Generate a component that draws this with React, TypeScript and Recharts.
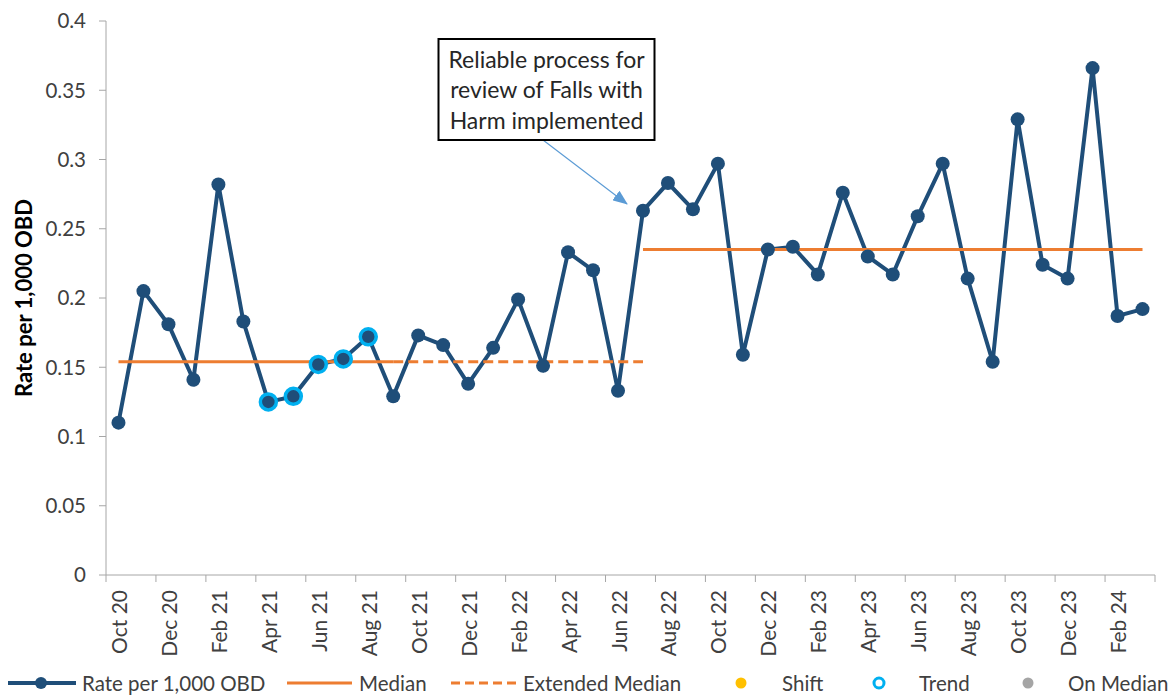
import React from 'react';
import { LineChart, Line, XAxis, YAxis, Legend } from 'recharts';

// months on the x axis (Oct 20 .. Mar 24)
const months = [
  'Oct 20', 'Nov 20', 'Dec 20', 'Jan 21', 'Feb 21', 'Mar 21', 'Apr 21', 'May 21', 'Jun 21', 'Jul 21', 'Aug 21', 'Sep 21',
  'Oct 21', 'Nov 21', 'Dec 21', 'Jan 22', 'Feb 22', 'Mar 22', 'Apr 22', 'May 22', 'Jun 22', 'Jul 22', 'Aug 22', 'Sep 22',
  'Oct 22', 'Nov 22', 'Dec 22', 'Jan 23', 'Feb 23', 'Mar 23', 'Apr 23', 'May 23', 'Jun 23', 'Jul 23', 'Aug 23', 'Sep 23',
  'Oct 23', 'Nov 23', 'Dec 23', 'Jan 24', 'Feb 24', 'Mar 24',
];

// falls with harm, rate per 1,000 occupied bed days
const rate = [
  0.110, 0.205, 0.181, 0.141, 0.282, 0.183, 0.125, 0.129, 0.152, 0.156, 0.172, 0.129,
  0.173, 0.166, 0.138, 0.164, 0.199, 0.151, 0.233, 0.220, 0.133, 0.263, 0.283, 0.264,
  0.297, 0.159, 0.235, 0.237, 0.217, 0.276, 0.230, 0.217, 0.259, 0.297, 0.214, 0.154,
  0.329, 0.224, 0.214, 0.366, 0.187, 0.192,
];

const yTicks = [0, 0.05, 0.1, 0.15, 0.2, 0.25, 0.3, 0.35, 0.4];

// median phases
const baselineMedian = 0.154;
const baselineMonths = ['Oct 20', 'Sep 21']; // first .. last
const extendedMonths = ['Sep 21', 'Jul 22'];
const newMedian = 0.235;
const newMedianMonths = ['Jul 22', 'Mar 24'];

// points flagged as a trend
const trendMonths = ['Apr 21', 'May 21', 'Jun 21', 'Jul 21', 'Aug 21'];

const inRange = (i: number, r: string[]) => i >= months.indexOf(r[0]) && i <= months.indexOf(r[1]);

const data = months.map((m, i) => ({
  month: m,
  rate: rate[i],
  median: inRange(i, baselineMonths) ? baselineMedian : inRange(i, newMedianMonths) ? newMedian : null,
  extMedian: inRange(i, extendedMonths) ? baselineMedian : null,
  trend: trendMonths.includes(m) ? rate[i] : null,
}));

const NAVY = '#1F4E79';
const ORANGE = '#ED7D31';
const CYAN = '#00B0F0';
const AXIS = '#A6A6A6';
const TEXT = '#404040';
const FONT = 'Lato, "Open Sans", sans-serif';

const MonthTick = (props: any) => {
  const { x, y, payload } = props;
  const half = payload.offset ? payload.offset : (1155 - 106) / months.length / 2;
  const isLast = payload.index === months.length - 2;
  return (
    <g>
      <line x1={x - half} x2={x - half} y1={y} y2={y + 7} stroke={AXIS} />
      {isLast && <line x1={x + 3 * half} x2={x + 3 * half} y1={y} y2={y + 7} stroke={AXIS} />}
      <text
        x={x}
        y={y + 15}
        transform={`rotate(-90, ${x}, ${y + 15})`}
        textAnchor="end"
        dominantBaseline="central"
        fontSize={21}
        fontFamily={FONT}
        fill={TEXT}
      >
        {payload.value}
      </text>
    </g>
  );
};

const legendItems = [
  { name: 'Rate per 1,000 OBD', kind: 'series', sx: 8, tx: 82 },
  { name: 'Median', kind: 'solid', sx: 287, tx: 359 },
  { name: 'Extended Median', kind: 'dashed', sx: 451, tx: 523 },
  { name: 'Shift', kind: 'shift', sx: 741, tx: 782 },
  { name: 'Trend', kind: 'trend', sx: 879, tx: 919 },
  { name: 'On Median', kind: 'onMedian', sx: 1028, tx: 1068 },
];

const renderLegend = () => (
  <svg width={1172} height={24} style={{ display: 'block' }}>
    {legendItems.map((it) => (
      <g key={it.name}>
        {it.kind === 'series' && (
          <g>
            <line x1={it.sx} x2={it.sx + 68} y1={12} y2={12} stroke={NAVY} strokeWidth={4} />
            <circle cx={it.sx + 33} cy={12} r={6} fill={NAVY} />
          </g>
        )}
        {it.kind === 'solid' && <line x1={it.sx} x2={it.sx + 65} y1={12} y2={12} stroke={ORANGE} strokeWidth={3} />}
        {it.kind === 'dashed' && (
          <line x1={it.sx} x2={it.sx + 68} y1={12} y2={12} stroke={ORANGE} strokeWidth={3} strokeDasharray="9 5" />
        )}
        {it.kind === 'shift' && <circle cx={it.sx} cy={12} r={5.5} fill="#FFC000" />}
        {it.kind === 'trend' && <circle cx={it.sx} cy={12} r={5} fill="#fff" stroke={CYAN} strokeWidth={3} />}
        {it.kind === 'onMedian' && <circle cx={it.sx} cy={12} r={5.5} fill="#A5A5A5" />}
        <text x={it.tx} y={12} dominantBaseline="central" fontSize={20.5} fontFamily={FONT} fill={TEXT}>
          {it.name}
        </text>
      </g>
    ))}
  </svg>
);

export default function App() {
  return (
    <div style={{ position: 'absolute', left: 0, top: 0, width: 1172, height: 695, background: '#fff' }}>
      <LineChart width={1172} height={695} data={data} margin={{ top: 21, right: 17, left: 0, bottom: 0 }}>
        <XAxis
          dataKey="month"
          scale="band"
          interval={1}
          tickLine={false}
          tickSize={0}
          tickMargin={0}
          height={96}
          stroke={AXIS}
          tick={<MonthTick />}
        />
        <YAxis
          domain={[0, 0.4]}
          ticks={yTicks}
          width={106}
          stroke={AXIS}
          tickSize={7}
          tickMargin={13}
          tickFormatter={(v: number) => String(+v.toFixed(2))}
          tick={{ fontSize: 20.5, fontFamily: FONT, fill: TEXT }}
          label={() => (
            <text
              x={23}
              y={298}
              transform="rotate(-90, 23, 298)"
              textAnchor="middle"
              dominantBaseline="central"
              fontSize={22}
              fontWeight="bold"
              fontFamily={FONT}
              fill="#000"
            >
              Rate per 1,000 OBD
            </text>
          )}
        />
        <Legend verticalAlign="bottom" content={renderLegend} wrapperStyle={{ left: 0, bottom: 0, width: 1172, height: 24 }} />
        <Line
          dataKey="rate"
          name="Rate per 1,000 OBD"
          stroke={NAVY}
          strokeWidth={4}
          dot={{ r: 7, fill: NAVY, stroke: NAVY, strokeWidth: 0 }}
          isAnimationActive={false}
        />
        <Line dataKey="median" name="Median" stroke={ORANGE} strokeWidth={3} dot={false} isAnimationActive={false} />
        <Line
          dataKey="extMedian"
          name="Extended Median"
          stroke={ORANGE}
          strokeWidth={3}
          strokeDasharray="10 5"
          dot={false}
          isAnimationActive={false}
        />
        <Line
          dataKey="trend"
          name="Trend"
          stroke="none"
          dot={{ r: 8, fill: 'none', stroke: CYAN, strokeWidth: 3.5 }}
          isAnimationActive={false}
        />
        <defs>
          <marker id="arrowHead" markerUnits="userSpaceOnUse" markerWidth={15} markerHeight={12} refX={14} refY={6} orient="auto">
            <path d="M0,0 L15,6 L0,12 z" fill="#5B9BD5" />
          </marker>
        </defs>
        <line x1={543} y1={140} x2={627} y2={204} stroke="#5B9BD5" strokeWidth={1.2} markerEnd="url(#arrowHead)" />
        <rect x={438.5} y={39} width={216} height={101} fill="#fff" stroke="#000" strokeWidth={2} />
        <text textAnchor="middle" fontSize={23} fontFamily={FONT} fill="#262626">
          <tspan x={546.5} y={68}>Reliable process for</tspan>
          <tspan x={546.5} y={98}>review of Falls with</tspan>
          <tspan x={546.5} y={129}>Harm implemented</tspan>
        </text>
      </LineChart>
    </div>
  );
}
